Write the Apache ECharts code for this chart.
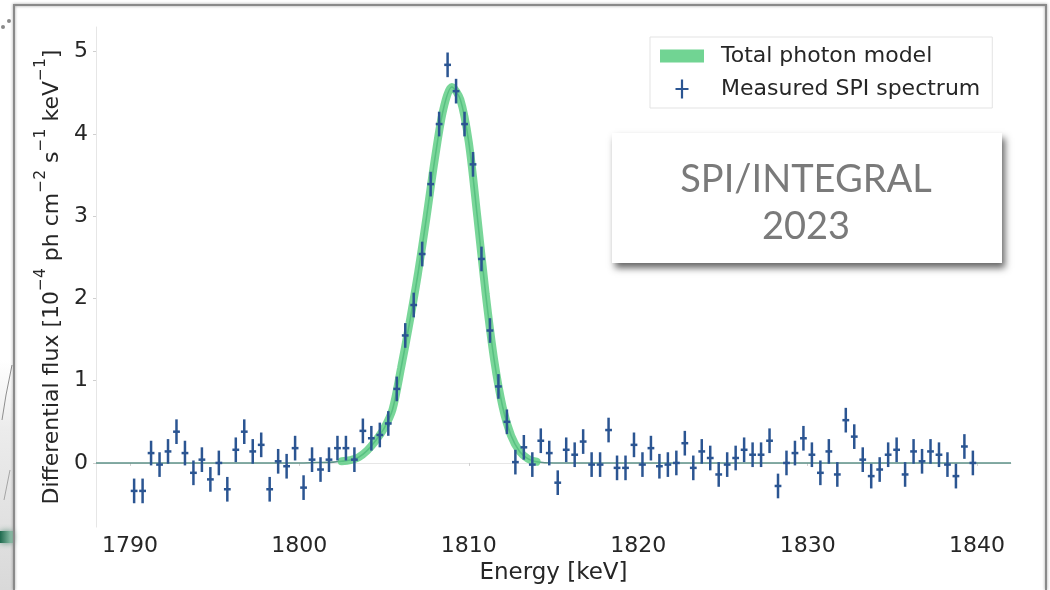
<!DOCTYPE html>
<html>
<head>
<meta charset="utf-8">
<script src="https://cdn.jsdelivr.net/npm/echarts@6/dist/echarts.min.js"></script>
<style>
  html, body { margin: 0; padding: 0; background: #fff; }
  #main { width: 1050px; height: 590px; }
</style>
</head>
<body>
<div id="main"></div>
<script>
// measured spectrum: 0.5 keV bins starting at 1790.25 keV
var binStart = 1790.25;
var binWidth = 0.5;
var flux = [
  -0.34, -0.34, 0.12, -0.02, 0.14, 0.38, 0.12, -0.12, 0.04, -0.20,
  0.00, -0.32, 0.16, 0.38, 0.14, 0.22, -0.32, 0.02, -0.04, 0.18,
  -0.30, 0.04, -0.08, 0.04, 0.18, 0.18, 0.04, 0.39, 0.30, 0.34,
  0.48, 0.90, 1.55, 1.92, 2.54, 3.39, 4.12, 4.84, 4.52, 4.12,
  3.63, 2.48, 1.61, 0.93, 0.50, 0.01, 0.19, -0.02, 0.27, 0.12,
  -0.24, 0.16, 0.10, 0.26, -0.02, -0.02, 0.40, -0.06, -0.06, 0.22,
  -0.02, 0.18, -0.04, -0.02, 0.00, 0.24, -0.06, 0.14, 0.06, -0.14,
  -0.02, 0.06, 0.16, 0.10, 0.10, 0.27, -0.28, 0.00, 0.12, 0.30,
  0.10, -0.12, 0.14, -0.14, 0.52, 0.32, 0.04, -0.16, -0.08, 0.10,
  0.16, -0.14, 0.14, 0.02, 0.14, 0.10, -0.02, -0.16, 0.20, 0.00
];
var fluxErr = 0.15;
var energyErr = 0.2;

// total photon model
var modelEnergy = [1788, 1800, 1801, 1802, 1802.5, 1803, 1803.5, 1804, 1804.5, 1805,
  1805.5, 1806, 1806.5, 1807, 1807.5, 1808, 1808.5, 1809, 1809.5, 1810,
  1810.5, 1811, 1811.5, 1812, 1812.5, 1813, 1813.5, 1814, 1815, 1816, 1842];
var modelFlux = [0, 0, 0.005, 0.01, 0.02, 0.035, 0.07, 0.15, 0.27, 0.42,
  0.65, 1.15, 1.7, 2.3, 2.98, 3.70, 4.30, 4.57, 4.42, 3.90,
  3.0, 2.05, 1.25, 0.68, 0.33, 0.14, 0.05, 0.015, 0, 0, 0];

var xMin = 1788, xMax = 1842;
var yMin = -0.78, yMax = 5.3;

var specData = flux.map(function (v, i) { return [binStart + i * binWidth, v, fluxErr]; });
var modelAll = modelEnergy.map(function (e, i) { return [e, modelFlux[i]]; });
var modelPeak = modelAll.filter(function (p) { return p[0] >= 1802.5 && p[0] <= 1814; });

var FONT = 'DejaVu Sans';
var TXT = '#262626';
var BLUE = '#2b5592';
var GREEN = 'rgba(88,204,128,0.8)';

function renderErr(params, api) {
  var x = api.value(0), y = api.value(1), e = api.value(2);
  var top = api.coord([x, y + e]);
  var bot = api.coord([x, y - e]);
  var l = api.coord([x - energyErr, y]);
  var r = api.coord([x + energyErr, y]);
  var st = { stroke: BLUE, lineWidth: 2.5 };
  return {
    type: 'group',
    children: [
      { type: 'line', shape: { x1: top[0], y1: top[1], x2: bot[0], y2: bot[1] }, style: st },
      { type: 'line', shape: { x1: l[0], y1: l[1], x2: r[0], y2: r[1] }, style: st }
    ]
  };
}

var myChart = echarts.init(document.getElementById('main'));

var option = {
  animation: false,
  backgroundColor: '#fff',
  grid: { left: 96, right: 39, top: 27, bottom: 60 },
  legend: {
    orient: 'vertical',
    left: 650,
    top: 37,
    itemWidth: 44,
    itemHeight: 20,
    itemGap: 11,
    padding: [8, 12, 8, 10],
    borderColor: '#e3e3e3',
    borderWidth: 1,
    backgroundColor: 'rgba(255,255,255,0.85)',
    textStyle: { fontFamily: FONT, fontSize: 22, color: TXT, padding: [0, 0, 0, 12] },
    data: [
      {
        name: 'Total photon model',
        icon: 'path://M0,0h0.05v0.05h-0.05Z M43.95,19.95h0.05v0.05h-0.05Z M0,3.5H44V16.5H0Z',
        itemStyle: { color: 'rgba(88,204,128,0.85)' }
      },
      {
        name: 'Measured SPI spectrum',
        icon: 'path://M0,0h0.05v0.05h-0.05Z M43.95,19.95h0.05v0.05h-0.05Z M20.9,0.5H23.1V19.5H20.9Z M15.5,8.9H28.5V11.1H15.5Z',
        itemStyle: { color: BLUE }
      }
    ]
  },
  xAxis: {
    type: 'value',
    min: xMin,
    max: xMax,
    splitNumber: 5,
    name: 'Energy [keV]',
    nameLocation: 'middle',
    nameGap: 34,
    nameTextStyle: { fontFamily: FONT, fontSize: 23, color: TXT },
    axisLine: { show: true, lineStyle: { color: '#e6e6e6', width: 1 } },
    axisTick: { show: true, length: 3, lineStyle: { color: '#cfcfcf' } },
    splitLine: { show: false },
    axisLabel: {
      fontFamily: FONT, fontSize: 22, color: TXT, margin: 8,
      showMinLabel: false, showMaxLabel: false,
      formatter: function (v) { return v % 10 === 0 ? String(v) : ''; }
    }
  },
  yAxis: {
    type: 'value',
    min: yMin,
    max: yMax,
    splitNumber: 6,
    name: '{n|Differential flux [10}{s|\u22124}{n| ph cm}{s|\u22122}{n| s}{s|\u22121}{n| keV}{s|\u22121}{n|]}',
    nameLocation: 'middle',
    nameGap: 30,
    nameTextStyle: {
      fontFamily: FONT, fontSize: 22, color: TXT,
      rich: {
        n: { fontFamily: FONT, fontSize: 22, color: TXT, lineHeight: 30, verticalAlign: 'bottom' },
        s: { fontFamily: FONT, fontSize: 15.5, color: TXT, verticalAlign: 'top' }
      }
    },
    axisLine: { show: true, lineStyle: { color: '#e6e6e6', width: 1 } },
    axisTick: { show: true, length: 3, lineStyle: { color: '#cfcfcf' } },
    splitLine: { show: false },
    axisLabel: {
      fontFamily: FONT, fontSize: 22, color: TXT, margin: 8,
      showMinLabel: false, showMaxLabel: false,
      formatter: function (v) { return Number.isInteger(v) ? String(v) : ''; }
    }
  },
  series: [
    {
      name: 'model baseline',
      type: 'line',
      data: modelAll,
      showSymbol: false,
      smooth: 0.3,
      lineStyle: { color: '#5d9188', width: 1.6 },
      z: 1,
      silent: true
    },
    {
      name: 'Total photon model',
      type: 'line',
      data: modelPeak,
      showSymbol: false,
      smooth: 0.3,
      color: GREEN,
      lineStyle: { color: GREEN, width: 8, cap: 'round' },
      z: 2,
      silent: true
    },
    {
      name: 'Measured SPI spectrum',
      type: 'custom',
      renderItem: renderErr,
      data: specData,
      color: BLUE,
      encode: { x: 0, y: 1 },
      z: 3
    }
  ],
  graphic: [
    // info box with drop shadow
    {
      type: 'rect', left: 612, top: 133, z: 10,
      shape: { width: 390, height: 130 },
      style: { fill: '#fff', shadowBlur: 7, shadowOffsetX: 3, shadowOffsetY: 5, shadowColor: 'rgba(0,0,0,0.6)' }
    },
    {
      type: 'text', x: 806, y: 180, z: 11,
      style: { text: 'SPI/INTEGRAL', font: '38px Lato', fill: '#7a7a7a', align: 'center', verticalAlign: 'middle' }
    },
    {
      type: 'text', x: 806, y: 227, z: 11,
      style: { text: '2023', font: '38px Lato', fill: '#7a7a7a', align: 'center', verticalAlign: 'middle' }
    },
    // slide background left of the frame
    {
      type: 'rect', z: 0, left: 0, top: 360, silent: true,
      shape: { width: 13, height: 230 },
      style: {
        fill: new echarts.graphic.LinearGradient(0, 0, 0, 1, [
          { offset: 0, color: '#ffffff' }, { offset: 0.3, color: '#ececec' }, { offset: 1, color: '#d9d9d9' }
        ])
      }
    },
    {
      type: 'rect', z: 0, left: 0, top: 531, silent: true,
      shape: { width: 13, height: 12 },
      style: {
        fill: new echarts.graphic.LinearGradient(0, 0, 1, 0, [
          { offset: 0, color: '#1f6a4e' }, { offset: 1, color: '#9ccab5' }
        ]),
        shadowBlur: 6, shadowColor: 'rgba(31,106,78,0.6)'
      }
    },
    {
      type: 'polyline', z: 0, silent: true,
      shape: { points: [[12, 365], [6, 395], [2, 420]] },
      style: { stroke: '#8f8f8f', lineWidth: 1, fill: null }
    },
    {
      type: 'polyline', z: 0, silent: true,
      shape: { points: [[10, 470], [4, 500]] },
      style: { stroke: '#a5a5a5', lineWidth: 1, fill: null }
    },
    // slide frame
    {
      type: 'polyline', z: 12, silent: true,
      shape: { points: [[14, 590], [14, 5], [1046, 5], [1046, 590]] },
      style: { stroke: '#8a8a8a', lineWidth: 2, fill: null, shadowBlur: 3, shadowColor: 'rgba(0,0,0,0.4)' }
    },
    { type: 'circle', z: 12, shape: { cx: 3, cy: 27, r: 2 }, style: { fill: '#8a8a8a' } },
    { type: 'circle', z: 12, shape: { cx: 9, cy: 21, r: 2 }, style: { fill: '#8a8a8a' } }
  ]
};

myChart.setOption(option);
window.onresize = function () {
  myChart.resize();
};
</script>
</body>
</html>
